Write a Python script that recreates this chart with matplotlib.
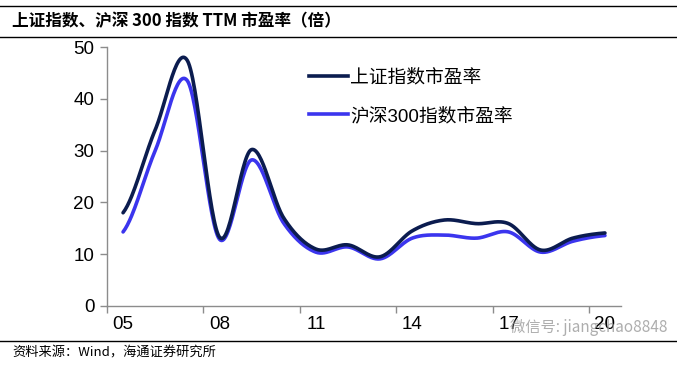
import numpy as np
import matplotlib.pyplot as plt
from matplotlib.lines import Line2D

plt.rcParams['font.family'] = ['Liberation Sans', 'Noto Sans CJK SC', 'DejaVu Sans']

# 年度数据 (2005-2020)
years = ['05', '06', '07', '08', '09', '10', '11', '12', '13', '14',
         '15', '16', '17', '18', '19', '20']
sh_pe = [18.0, 34.0, 47.4, 13.3, 30.2, 17.0, 11.0, 11.8, 9.5, 14.5,
         16.6, 15.9, 15.9, 10.8, 13.1, 14.1]
hs300_pe = [14.3, 30.0, 43.5, 12.9, 28.2, 16.0, 10.4, 11.4, 9.1, 13.1,
            13.7, 13.1, 14.3, 10.4, 12.5, 13.6]
tick_labels = ['05', '08', '11', '14', '17', '20']

CJK = ['Noto Sans CJK SC', 'DejaVu Sans']


def smooth(x, y, n=30):
    # Excel 式平滑线 (Catmull-Rom)
    x = np.asarray(x, float)
    y = np.asarray(y, float)
    px = np.concatenate([[2 * x[0] - x[1]], x, [2 * x[-1] - x[-2]]])
    py = np.concatenate([[y[0]], y, [y[-1]]])
    xs, ys = [], []
    for i in range(1, len(px) - 2):
        t = np.linspace(0, 1, n, endpoint=False)
        for p, out in ((px, xs), (py, ys)):
            p0, p1, p2, p3 = p[i - 1], p[i], p[i + 1], p[i + 2]
            out.extend(0.5 * (2 * p1 + (-p0 + p2) * t
                              + (2 * p0 - 5 * p1 + 4 * p2 - p3) * t ** 2
                              + (-p0 + 3 * p1 - 3 * p2 + p3) * t ** 3))
    xs.append(x[-1])
    ys.append(y[-1])
    return np.array(xs), np.array(ys)


fig = plt.figure(figsize=(6.77, 3.65), dpi=100)
ax = fig.add_axes([107 / 677, 59 / 365, 514 / 677, 259 / 365])

pos = np.arange(len(years)) + 0.5
dark = '#0b1c4f'
blue = '#3b35ee'
sx, sy = smooth(pos, sh_pe)
ax.plot(sx, sy, color=dark, lw=2.6, solid_capstyle='round', zorder=3)
hx, hy = smooth(pos, hs300_pe)
ax.plot(hx, hy, color=blue, lw=2.6, solid_capstyle='round', zorder=2)

ax.set_xlim(0, len(years))
ax.set_ylim(0, 50)
ax.set_yticks(range(0, 51, 10))
ax.set_xticks(range(0, len(years), 3))
ax.set_xticklabels([])
ax.set_xticks(np.arange(0, len(years), 3) + 0.5, minor=True)
ax.set_xticklabels(tick_labels, minor=True)
ax.tick_params(axis='x', which='minor', length=0, pad=7, labelsize=13.5)
ax.tick_params(axis='x', which='major', length=5, width=1, color='#8c8c8c', direction='out')
ax.tick_params(axis='y', length=5, width=1, color='#8c8c8c', direction='out', labelsize=13.5, pad=4)
for s in ['top', 'right']:
    ax.spines[s].set_visible(False)
for s in ['left', 'bottom']:
    ax.spines[s].set_color('#8c8c8c')
    ax.spines[s].set_linewidth(1)

handles = [Line2D([], [], color=dark, lw=2.6), Line2D([], [], color=blue, lw=2.6)]
leg = ax.legend(handles, ['上证指数市盈率', '沪深300指数市盈率'],
                loc='upper left', bbox_to_anchor=(0.36, 0.98), frameon=False,
                handlelength=2.1, handletextpad=0.1, labelspacing=1.1,
                prop={'family': ['Liberation Sans', 'Noto Sans CJK SC'], 'size': 13.5})

# 标题与边线
fig.add_artist(Line2D([0, 1], [1 - 6 / 365, 1 - 6 / 365], color='black', lw=1))
fig.add_artist(Line2D([0, 1], [1 - 37 / 365, 1 - 37 / 365], color='black', lw=1))
fig.add_artist(Line2D([0, 1], [1 - 341 / 365, 1 - 341 / 365], color='black', lw=1))
fig.text(12 / 677, 1 - 21 / 365, '上证指数、沪深 300 指数 TTM 市盈率（倍）',
         family=CJK, fontsize=12, fontweight='bold', va='center', ha='left')
fig.text(12 / 677, 1 - 353 / 365, '资料来源：Wind，海通证券研究所',
         family=CJK, fontsize=9.5, va='center', ha='left')
fig.text(510 / 677, 1 - 328 / 365, '微信号: jiangchao8848',
         family=CJK, fontsize=11, color='#a0a0a0', alpha=0.85, va='center', ha='left')

fig.savefig('out.png', dpi=100)
